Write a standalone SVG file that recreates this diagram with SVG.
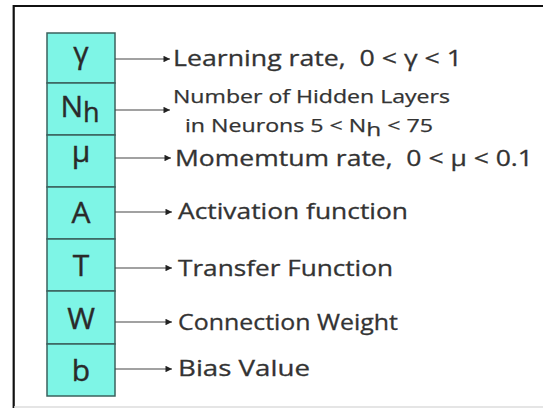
<svg xmlns="http://www.w3.org/2000/svg" width="543" height="408" viewBox="0 0 543 408">
  <defs>
    <marker id="head" viewBox="0 0 10 10" refX="10" refY="5" markerWidth="10" markerHeight="6.5" markerUnits="userSpaceOnUse" orient="auto">
      <path d="M0,0 L10,5 L0,10 Z" fill="#222"/>
    </marker>
    <style>
      .cell rect { fill: #7ef5e6; stroke: #3b625d; stroke-width: 1.5; }
      .sym { font-family: "Open Sans", Lato, sans-serif; font-size: 30px; fill: #2a2a2a; stroke: #2a2a2a; stroke-width: 0.4; text-anchor: middle; }
      .lbl { font-family: "Open Sans", Lato, sans-serif; font-size: 22px; fill: #333; stroke: #333; stroke-width: 0.3; }
      .lbl-s { font-family: "Open Sans", Lato, sans-serif; font-size: 18px; fill: #333; stroke: #333; stroke-width: 0.25; }
      .conn line { stroke: #444; stroke-width: 1.2; marker-end: url(#head); }
    </style>
  </defs>

  <rect width="543" height="408" fill="#fff"/>
  <!-- frame -->
  <path d="M13.7,408 V6 H545" fill="none" stroke="#111" stroke-width="2.2"/>
  <line x1="14" y1="407" x2="543" y2="407" stroke="#dcdcdc" stroke-width="1.5"/>

  <!-- parameter column -->
  <g id="cell-gamma" class="cell">
    <rect x="47" y="33" width="68" height="50"/>
    <text class="sym" x="81" y="63">γ</text>
  </g>
  <g id="cell-nh" class="cell">
    <rect x="47" y="83" width="68" height="52"/>
    <text class="sym" x="80" y="117">N<tspan dy="5" font-size="27">h</tspan></text>
  </g>
  <g id="cell-mu" class="cell">
    <rect x="47" y="135" width="68" height="52"/>
    <text class="sym" x="81" y="162">μ</text>
  </g>
  <g id="cell-a" class="cell">
    <rect x="47" y="187" width="68" height="52"/>
    <text class="sym" x="81" y="223">A</text>
  </g>
  <g id="cell-t" class="cell">
    <rect x="47" y="239" width="68" height="52"/>
    <text class="sym" x="81" y="276">T</text>
  </g>
  <g id="cell-w" class="cell">
    <rect x="47" y="291" width="68" height="53"/>
    <text class="sym" x="81" y="329">W</text>
  </g>
  <g id="cell-b" class="cell">
    <rect x="47" y="344" width="68" height="52"/>
    <text class="sym" x="81" y="381">b</text>
  </g>

  <!-- connectors -->
  <g id="connectors" class="conn">
    <line x1="115" y1="59" x2="170" y2="59"/>
    <line x1="115" y1="110" x2="170" y2="110"/>
    <line x1="115" y1="158" x2="171" y2="158"/>
    <line x1="115" y1="212" x2="172" y2="212"/>
    <line x1="115" y1="268" x2="172" y2="268"/>
    <line x1="115" y1="322" x2="172" y2="322"/>
    <line x1="115" y1="369" x2="172" y2="369"/>
  </g>

  <!-- descriptions -->
  <g id="label-gamma">
    <text class="lbl" x="173" y="66" textLength="289" lengthAdjust="spacingAndGlyphs">Learning rate,&#160; 0 &lt; γ &lt; 1</text>
  </g>
  <g id="label-nh">
    <text class="lbl-s" x="173" y="103" textLength="277" lengthAdjust="spacingAndGlyphs">Number of Hidden Layers</text>
    <text class="lbl-s" x="185" y="132" textLength="248" lengthAdjust="spacingAndGlyphs">in Neurons 5 &lt; N<tspan dy="4" font-size="19">h</tspan><tspan dy="-4"> &lt; 75</tspan></text>
  </g>
  <g id="label-mu">
    <text class="lbl" x="175" y="166" textLength="358" lengthAdjust="spacingAndGlyphs">Momemtum rate,&#160; 0 &lt; μ &lt; 0.1</text>
  </g>
  <g id="label-a">
    <text class="lbl" x="178" y="219" textLength="230" lengthAdjust="spacingAndGlyphs">Activation function</text>
  </g>
  <g id="label-t">
    <text class="lbl" x="178" y="276" textLength="215" lengthAdjust="spacingAndGlyphs">Transfer Function</text>
  </g>
  <g id="label-w">
    <text class="lbl" x="178" y="330" textLength="220" lengthAdjust="spacingAndGlyphs">Connection Weight</text>
  </g>
  <g id="label-b">
    <text class="lbl" x="178" y="376" textLength="132" lengthAdjust="spacingAndGlyphs">Bias Value</text>
  </g>
</svg>
